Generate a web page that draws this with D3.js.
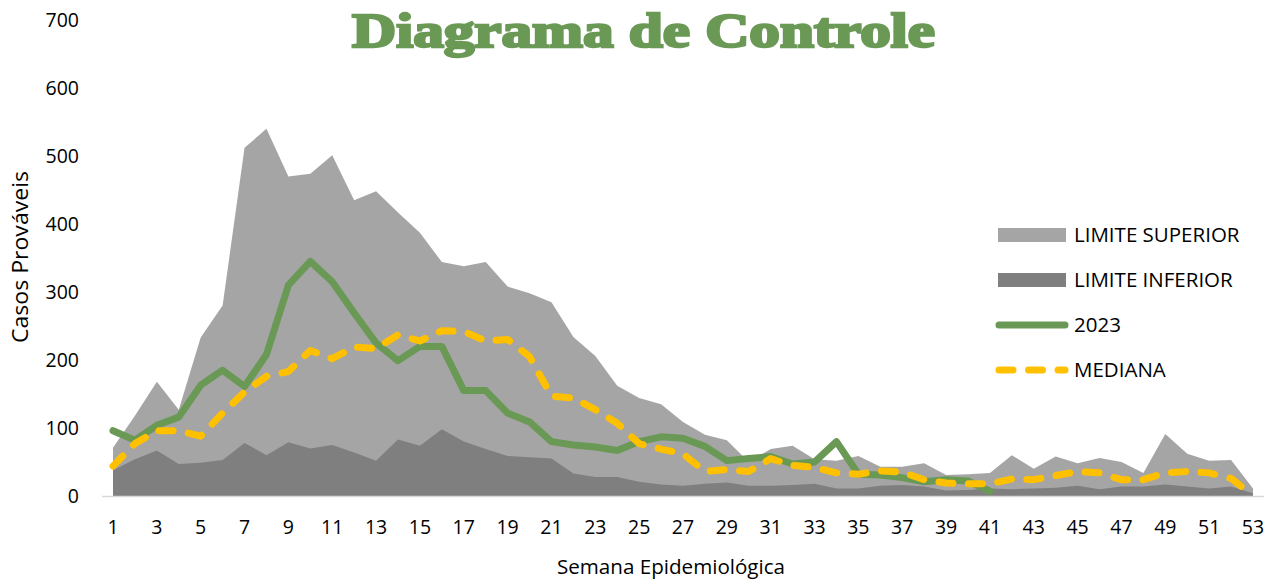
<!DOCTYPE html>
<html><head><meta charset="utf-8">
<script src="https://cdn.jsdelivr.net/npm/d3@7/dist/d3.min.js"></script>
<style>body{margin:0;background:#fff}svg{display:block}</style>
</head><body>
<svg id="c" width="1281" height="579"></svg>
<script>
const weeks = d3.range(1, 54);
const limiteSuperior = [71,118,168,127,233,280,512,540,470,474,501,435,448,417,387,344,338,344,308,298,285,234,206,162,144,135,109,90,82,50,69,74,54,52,59,43,43,48,31,32,34,60,40,58,48,56,50,34,91,62,52,53,11];
const limiteInferior = [38,54,67,47,49,53,78,60,79,70,75,64,52,83,74,98,80,69,59,57,55,33,28,28,21,17,15,18,20,15,15,16,18,11,11,15,16,14,8,9,11,10,11,12,15,10,14,14,17,14,11,14,4];
const ano2023 = [96,82,104,116,163,185,161,208,310,345,315,269,225,199,220,220,155,155,122,109,80,75,72,67,80,87,85,73,52,55,58,47,50,80,32,31,27,21,24,22,7,null,null,null,null,null,null,null,null,null,null,null,null];
const mediana = [44,77,96,96,88,122,153,176,183,214,202,219,217,237,228,243,242,228,230,205,147,144,127,107,77,69,62,36,39,36,55,45,42,34,32,37,35,24,19,18,18,25,24,30,36,34,24,24,34,36,34,26,0];
const yTicks = [0,100,200,300,400,500,600,700];
const xTickLabels = weeks.filter(w => w % 2 === 1);
const legendLabels = ["LIMITE SUPERIOR","LIMITE INFERIOR","2023","MEDIANA"];

const svg = d3.select("#c");
const font = "'Open Sans', sans-serif";
const x = d3.scalePoint().domain(weeks).range([113, 1253]);
const y = d3.scaleLinear().domain([0, 700]).range([496, 20]);
const cLight = "#a5a5a5", cDark = "#7f7f7f", cGreen = "#6a9955", cYellow = "#ffc000";

const area = d => d3.area().x((v,i) => x(weeks[i])).y0(y(0)).y1(v => y(v))(d);
svg.append("path").attr("d", area(limiteSuperior)).attr("fill", cLight);
svg.append("path").attr("d", area(limiteInferior)).attr("fill", cDark);

// x axis line
svg.append("line").attr("x1", 102).attr("x2", 1264).attr("y1", y(0)+0.5).attr("y2", y(0)+0.5)
  .attr("stroke", "#d9d9d9").attr("stroke-width", 1.5);

const line = d3.line().defined(v => v !== null).x((v,i) => x(weeks[i])).y(v => y(v));
svg.append("path").attr("d", line(ano2023)).attr("fill", "none").attr("stroke", cGreen)
  .attr("stroke-width", 7).attr("stroke-linejoin", "round").attr("stroke-linecap", "round");
svg.append("path").attr("d", line(mediana)).attr("fill", "none").attr("stroke", cYellow)
  .attr("stroke-width", 7).attr("stroke-linejoin", "round").attr("stroke-linecap", "round")
  .attr("stroke-dasharray", "14 15.5");

// y tick labels
svg.append("g").selectAll("text").data(yTicks).join("text")
  .attr("x", 79).attr("y", d => y(d)).attr("dy", "0.35em").attr("text-anchor", "end")
  .attr("font-family", font).attr("font-size", 19.5).attr("fill", "#000").text(d => d);
// x tick labels
svg.append("g").selectAll("text").data(xTickLabels).join("text")
  .attr("x", d => x(d)).attr("y", 527).attr("dy", "0.35em").attr("text-anchor", "middle")
  .attr("font-family", font).attr("font-size", 19.5).attr("fill", "#000").text(d => d);

svg.append("text").attr("transform", "translate(21,257) rotate(-90)").attr("text-anchor", "middle")
  .attr("dy", "0.35em").attr("font-family", font).attr("font-size", 21)
  .attr("textLength", 172).attr("lengthAdjust", "spacingAndGlyphs").text("Casos Prováveis");
svg.append("text").attr("x", 671).attr("y", 567).attr("text-anchor", "middle")
  .attr("dy", "0.35em").attr("font-family", font).attr("font-size", 20.6).text("Semana Epidemiológica");

// title
svg.append("text").attr("x", 352).attr("y", 47).attr("textLength", 583).attr("lengthAdjust", "spacingAndGlyphs")
  .attr("font-family", "'Liberation Serif', serif").attr("font-weight", "bold").attr("font-size", 48)
  .attr("fill", cGreen).attr("stroke", cGreen).attr("stroke-width", 2.5).text("Diagrama de Controle");

// legend
const lg = svg.append("g");
const rowsY = [235, 280, 325, 370];
legendLabels.forEach((lab, i) => {
  const cy = rowsY[i];
  if (i === 0 || i === 1) {
    lg.append("rect").attr("x", 998).attr("y", cy - 7).attr("width", 68).attr("height", 14)
      .attr("fill", i === 0 ? cLight : cDark);
  } else {
    lg.append("line").attr("x1", 999).attr("x2", 1065).attr("y1", cy).attr("y2", cy)
      .attr("stroke", i === 2 ? cGreen : cYellow).attr("stroke-width", 7).attr("stroke-linecap", "round")
      .attr("stroke-dasharray", i === 3 ? "14 15.5" : null);
  }
  lg.append("text").attr("x", 1074).attr("y", cy).attr("dy", "0.35em")
    .attr("font-family", font).attr("font-size", 20.5).attr("fill", "#000").text(lab);
});
</script>
</body></html>
